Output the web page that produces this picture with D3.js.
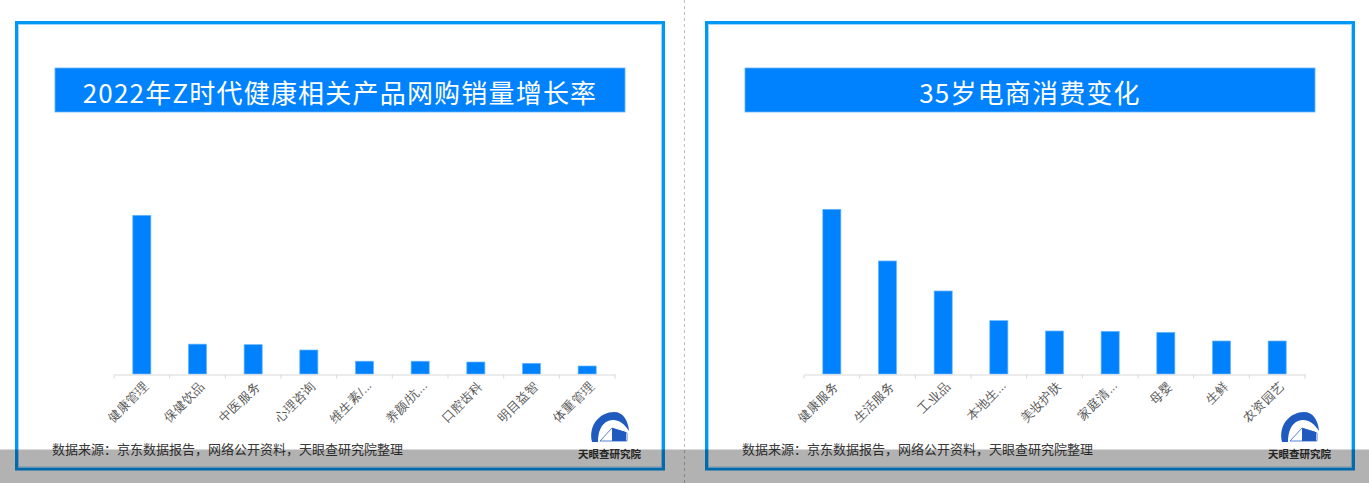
<!DOCTYPE html>
<html><head><meta charset="utf-8">
<script src="https://cdn.jsdelivr.net/npm/d3@7/dist/d3.min.js"></script>
<style>
html,body{margin:0;padding:0;background:#fff;}
svg{display:block;font-family:"Noto Sans CJK SC","Noto Sans",sans-serif;}
</style></head>
<body>
<svg id="chart" width="1369" height="483"></svg>
<script>
// ---- data ----
const leftTitle = "2022年Z时代健康相关产品网购销量增长率";
const leftCategories = ["健康管理","保健饮品","中医服务","心理咨询","维生素/...","养颜/抗...","口腔齿科","明目益智","体重管理"];
const leftValues = [595, 112, 110, 90, 48, 48, 45, 40, 30];
const leftMax = 625;

const rightTitle = "35岁电商消费变化";
const rightCategories = ["健康服务","生活服务","工业品","本地生...","美妆护肤","家庭清...","母婴","生鲜","农资园艺"];
const rightValues = [4.94, 3.39, 2.49, 1.60, 1.29, 1.28, 1.25, 0.99, 0.99];
const rightMax = 5;

const sourceText = "数据来源：京东数据报告，网络公开资料，天眼查研究院整理";
const logoText = "天眼查研究院";

// ---- drawing ----
const svg = d3.select("#chart");
const BLUE = "#0082ff";

function drawPanel(ox, title, cats, vals, vmax) {
  const g = svg.append("g").attr("transform", `translate(${ox},0)`);
  // frame
  g.append("rect").attr("x",16.5).attr("y",22.5).attr("width",647).attr("height",446.5)
    .attr("fill","#fff").attr("stroke","#0098f5").attr("stroke-width",3);
  g.append("rect").attr("x",18.5).attr("y",24.5).attr("width",643).attr("height",442.5)
    .attr("fill","none").attr("stroke","#9fd6ff").attr("stroke-width",1);
  // title bar
  g.append("rect").attr("x",55).attr("y",68).attr("width",570).attr("height",44).attr("fill",BLUE)
    .attr("stroke","#66b3ff").attr("stroke-width",0.8);
  g.append("text").attr("x",340).attr("y",91).attr("text-anchor","middle").attr("dominant-baseline","central")
    .attr("fill","#fff").attr("font-size",26).attr("letter-spacing",1.2).text(title);

  // scales
  const x = d3.scaleBand().domain(cats).range([114, 615]).paddingInner(0.675).paddingOuter(0.3375);
  const y = d3.scaleLinear().domain([0, vmax]).range([374, 207.3]);

  g.selectAll("rect.bar").data(vals).enter().append("rect").attr("class","bar")
    .attr("x",(d,i)=>x(cats[i])).attr("width",x.bandwidth())
    .attr("y",d=>y(d)).attr("height",d=>y(0)-y(d))
    .attr("fill",BLUE).attr("stroke","#6cb8ff").attr("stroke-width",0.7);

  // axis
  const axis = d3.axisBottom(x).tickSize(0).tickFormat("");
  const ag = g.append("g").attr("transform","translate(0,374.5)").call(axis);
  ag.select(".domain").attr("stroke","#d9d9d9").attr("stroke-width",1);
  const bounds = d3.range(cats.length+1).map(i => 114 + i*x.step());
  ag.selectAll("line.bt").data(bounds).enter().append("line").attr("class","bt")
    .attr("x1",d=>d).attr("x2",d=>d).attr("y1",0).attr("y2",4).attr("stroke","#d9d9d9");
  ag.selectAll("text.lbl").data(cats).enter().append("text").attr("class","lbl")
    .attr("transform",d=>`translate(${x(d)+x.bandwidth()/2+5},9) rotate(-45)`)
    .attr("text-anchor","end").attr("dominant-baseline","central")
    .attr("font-size",12.5).attr("fill","#555").text(d=>d);

  // source
  g.append("text").attr("x",52).attr("y",448).attr("dominant-baseline","central")
    .attr("font-size",13).attr("fill","#3a3a3a").text(sourceText);

  // logo
  const lg = g.append("g");
  lg.append("path").attr("d","M592,442 C588,424 601,412 614,412 C623,412 628,420 629,431 C623,421 615,418 608,421 C601,424 598,432 598,442 Z")
    .attr("fill","#1f5bbf");
  lg.append("path").attr("d","M600,441 L612,428 L627,433 L627,441 Z").attr("fill","#fff").attr("stroke","#2b62c4").attr("stroke-width",0.8);
  lg.append("path").attr("d","M612,428 L626,432 L626,441 L612,441 Z").attr("fill","#1f5bbf");
  lg.append("text").attr("x",609.5).attr("y",453).attr("text-anchor","middle").attr("dominant-baseline","central")
    .attr("font-size",10.5).attr("font-weight","bold").attr("fill","#333").text(logoText);
}

drawPanel(0, leftTitle, leftCategories, leftValues, leftMax);
drawPanel(690, rightTitle, rightCategories, rightValues, rightMax);

// divider
svg.append("line").attr("x1",684.5).attr("x2",684.5).attr("y1",0).attr("y2",483)
  .attr("stroke","#bdbdbd").attr("stroke-dasharray","3,3");
// grey band
svg.append("rect").attr("x",0).attr("y",449.5).attr("width",1369).attr("height",34)
  .attr("fill","#000").attr("opacity",0.3);
</script>
</body></html>
